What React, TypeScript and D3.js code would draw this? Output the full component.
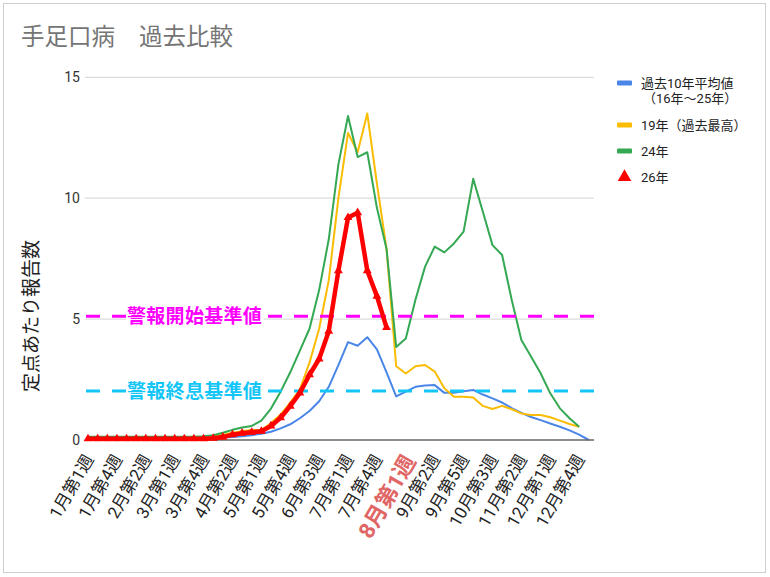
import React from "react";
import * as d3 from "d3";

const FONT = "Roboto, 'Noto Sans CJK JP', 'Noto Sans', sans-serif";

const title = "手足口病";
const title2 = "過去比較";
const yAxisTitle = "定点あたり報告数";

const weeks = d3.range(1, 54);

const xTickLabels = [
  "1月第1週", "1月第4週", "2月第2週", "3月第1週", "3月第4週", "4月第2週",
  "5月第1週", "5月第4週", "6月第3週", "7月第1週", "7月第4週", "8月第1週",
  "9月第2週", "9月第5週", "10月第3週", "11月第2週", "12月第1週", "12月第4週",
];
const highlightTick = 11;
const yTicks = [0, 5, 10, 15];

const avg10: (number | null)[] = [
  0.05, 0.05, 0.05, 0.05, 0.05, 0.05, 0.05, 0.05, 0.05, 0.05,
  0.05, 0.06, 0.07, 0.08, 0.1, 0.12, 0.15, 0.2, 0.26, 0.34,
  0.48, 0.65, 0.9, 1.2, 1.6, 2.2, 3.1, 4.05, 3.9, 4.25,
  3.75, 2.8, 1.8, 2.0, 2.2, 2.25, 2.27, 1.95, 1.95, 2.02,
  2.07, 1.88, 1.72, 1.55, 1.32, 1.12, 0.95, 0.82, 0.68, 0.55,
  0.4, 0.22, 0,
];
const max19: (number | null)[] = [
  0.08, 0.08, 0.08, 0.08, 0.08, 0.08, 0.08, 0.08, 0.08, 0.08,
  0.08, 0.08, 0.1, 0.15, 0.22, 0.3, 0.36, 0.42, 0.4, 0.7,
  1.05, 1.55, 2.1, 3.2, 4.6, 6.6, 10.0, 12.7, 11.9, 13.5,
  10.6, 7.9, 3.05, 2.75, 3.05, 3.1, 2.83, 2.14, 1.79, 1.79,
  1.76, 1.41, 1.28, 1.41, 1.27, 1.1, 1.03, 1.03, 0.94, 0.8,
  0.66, 0.55, null,
];
const y24: (number | null)[] = [
  0.13, 0.13, 0.13, 0.13, 0.13, 0.13, 0.13, 0.13, 0.13, 0.13,
  0.13, 0.13, 0.16, 0.2, 0.3, 0.42, 0.52, 0.58, 0.8, 1.3,
  2.0, 2.8, 3.7, 4.6, 6.2, 8.3, 11.4, 13.4, 11.7, 11.9,
  9.6, 7.9, 3.85, 4.2, 5.8, 7.17, 8.0, 7.76, 8.13, 8.62,
  10.8, 9.44, 8.06, 7.65, 5.79, 4.14, 3.45, 2.76, 1.93, 1.31,
  0.9, 0.55, null,
];
const y26: (number | null)[] = [
  0.05, 0.05, 0.05, 0.05, 0.05, 0.05, 0.05, 0.05, 0.05, 0.05,
  0.05, 0.05, 0.05, 0.07, 0.12, 0.22, 0.28, 0.32, 0.36, 0.58,
  0.92, 1.4, 1.95, 2.7, 3.35, 4.5, 7.0, 9.2, 9.4, 7.0,
  5.95, 4.65,
];

const alarmStart = 5.12;
const alarmEnd = 2.03;
const alarmStartLabel = "警報開始基準値";
const alarmEndLabel = "警報終息基準値";

const legendItems = [
  { lines: ["過去10年平均値", "（16年〜25年）"], color: "#4A86E8", kind: "line" },
  { lines: ["19年（過去最高）"], color: "#FBBC04", kind: "line" },
  { lines: ["24年"], color: "#34A853", kind: "line" },
  { lines: ["26年"], color: "#FF0000", kind: "tri" },
];

export default function App() {
  const x = d3.scalePoint<number>().domain(weeks).range([83.2, 593.6]).padding(0.5);
  const y = d3.scaleLinear().domain([0, 15]).range([440, 77.3]);
  const x0 = 85;
  const x1 = 594;

  const line = d3
    .line<number | null>()
    .defined((d) => d != null)
    .x((_, i) => x(weeks[i]) as number)
    .y((d) => y(d as number));

  const tri = d3.symbol().type(d3.symbolTriangle).size(34)() as string;
  const triBig = d3.symbol().type(d3.symbolTriangle).size(80)() as string;

  const alarmLines = [
    { v: alarmStart, label: alarmStartLabel, color: "#FF00FF" },
    { v: alarmEnd, label: alarmEndLabel, color: "#14C6F7" },
  ];

  return (
    <svg
      width={770}
      height={577}
      style={{ position: "absolute", left: 0, top: 0, background: "#fff", fontFamily: FONT }}
    >
      <rect x={3.5} y={3.5} width={762} height={569} fill="#fff" stroke="#cfcfcf" />
      <text x={21} y={45} fontSize={23.5} fill="#757575">
        {title}
        <tspan x={139}>{title2}</tspan>
      </text>

      {/* gridlines */}
      {yTicks.filter((t) => t > 0).map((t) => (
        <line key={t} x1={x0} x2={x1} y1={y(t)} y2={y(t)} stroke="#dcdcdc" strokeWidth={1.2} />
      ))}
      {yTicks.map((t) => (
        <text key={"yl" + t} x={80} y={y(t)} dy="0.35em" textAnchor="end" fontSize={14} fill="#333">
          {t}
        </text>
      ))}
      <text
        transform={`translate(31, 316) rotate(-90)`}
        textAnchor="middle"
        dy="0.35em"
        fontSize={19}
        fill="#222"
      >
        {yAxisTitle}
      </text>

      {/* series */}
      <path d={line(avg10) || ""} fill="none" stroke="#4A86E8" strokeWidth={2} strokeLinejoin="round" />
      <path d={line(max19) || ""} fill="none" stroke="#FBBC04" strokeWidth={2} strokeLinejoin="round" />
      <path d={line(y24) || ""} fill="none" stroke="#34A853" strokeWidth={2} strokeLinejoin="round" />

      {/* alarm lines */}
      {alarmLines.map((a) => (
        <g key={a.label}>
          <line
            x1={86}
            x2={606}
            y1={y(a.v)}
            y2={y(a.v)}
            stroke={a.color}
            strokeWidth={3}
            strokeDasharray="14 12"
          />
          <rect x={126} y={y(a.v) - 11} width={138} height={22} fill="#fff" />
          <text
            x={127}
            y={y(a.v)}
            dy="0.36em"
            fontSize={19}
            fontWeight="bold"
            fill={a.color}
            letterSpacing={0.3}
          >
            {a.label}
          </text>
        </g>
      ))}

      {/* baseline */}
      <line x1={x0} x2={x1} y1={y(0)} y2={y(0)} stroke="#666" strokeWidth={1.5} />

      <path d={line(y26) || ""} fill="none" stroke="#FF0000" strokeWidth={4.5} strokeLinejoin="round" />
      {y26.map((d, i) =>
        d == null ? null : (
          <path
            key={"t" + i}
            d={tri}
            transform={`translate(${x(weeks[i])},${y(d)})`}
            fill="#FF0000"
          />
        )
      )}

      {/* x labels */}
      {xTickLabels.map((lab, i) => {
        const wk = 1 + i * 3;
        const hl = i === highlightTick;
        return (
          <text
            key={lab + i}
            transform={`translate(${(x(wk) as number) + (hl ? 4 : 1)},${hl ? 457 : 456}) rotate(-60)`}
            textAnchor="end"
            dy="0.35em"
            fontSize={hl ? 22 : 17}
            fontWeight={hl ? "bold" : "normal"}
            fill={hl ? "#E06666" : "#222"}
          >
            {lab}
          </text>
        );
      })}

      {/* legend */}
      {legendItems.map((it, i) => {
        const cy = [83, 125, 151, 177][i];
        return (
          <g key={"lg" + i}>
            {it.kind === "line" ? (
              <rect x={617} y={cy - 2.5} width={15} height={5} rx={1} fill={it.color} />
            ) : (
              <path d={triBig} transform={`translate(624.5,${cy})`} fill={it.color} />
            )}
            {it.lines.map((l, j) => (
              <text
                key={j}
                x={j === 0 ? 641 : 643}
                y={cy + j * 15.5}
                dy="0.35em"
                fontSize={13}
                fill="#222"
              >
                {l}
              </text>
            ))}
          </g>
        );
      })}
    </svg>
  );
}
